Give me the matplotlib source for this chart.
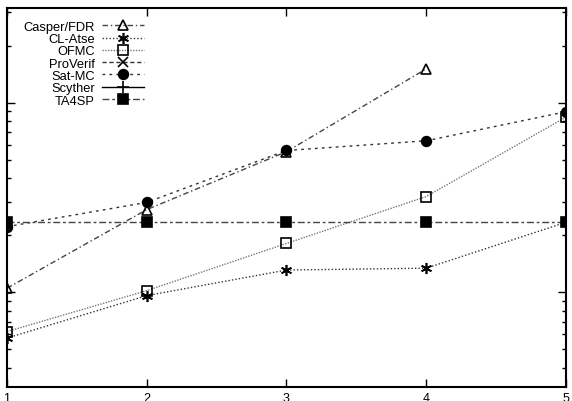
import numpy as np
import matplotlib.pyplot as plt

plt.rcParams['font.family'] = ['Liberation Sans', 'DejaVu Sans']

# number of sessions
sessions = [1, 2, 3, 4, 5]

# times (ProVerif / Scyther stay below the plotted range)
casper = [1.05, 2.73, 5.52, 15.1, np.nan]
clatse = [0.573, 0.96, 1.31, 1.34, 2.34]
ofmc = [0.62, 1.02, 1.81, 3.2, 8.4]
proverif = []
satmc = [2.22, 2.98, 5.6, 6.3, 8.97]
scyther = []
ta4sp = [2.36, 2.36, 2.36, 2.36, 2.36]


def main():
    fig = plt.figure(figsize=(5.72, 4.02), dpi=100)
    ax = fig.add_axes([0.0122, 0.0348, 0.9773, 0.9428])

    series = [
        ("Casper/FDR", casper, "^", "none", (0, (4, 2, 1, 2)), "#444444", 7),
        ("CL-Atse", clatse, (6, 2, 0), "black", (0, (1, 1.5)), "#333333", 8),
        ("OFMC", ofmc, "s", "none", (0, (1, 1)), "#777777", 7),
        ("ProVerif", proverif, "x", "black", (0, (3, 2)), "#333333", 7),
        ("Sat-MC", satmc, "o", "black", (0, (2, 3)), "#333333", 7),
        ("Scyther", scyther, "+", "black", "-", "#000000", 8),
        ("TA4SP", ta4sp, "s", "black", (0, (5, 2, 2, 2)), "#444444", 7),
    ]
    for name, vals, mk, fc, ls, col, ms in series:
        xs = sessions[:len(vals)]
        ax.plot(xs, vals, linestyle=ls, color=col, lw=1.0,
                marker=mk, markersize=ms, markerfacecolor=fc,
                markeredgecolor="black", markeredgewidth=1.2, label=name)

    ax.set_yscale("log")
    ax.set_xlim(1, 5)
    ax.set_ylim(10 ** -0.5, 10 ** 1.5)
    ax.set_xticks(sessions)

    ax.tick_params(which="both", direction="in", top=True, right=True,
                   labelleft=False, labelsize=9, width=1)
    ax.tick_params(which="major", length=6)
    ax.tick_params(which="minor", length=3)
    for sp in ax.spines.values():
        sp.set_linewidth(1.5)

    ax.legend(loc="upper left", bbox_to_anchor=(0.02, 0.98), markerfirst=False,
              frameon=False, fontsize=9.3, handlelength=3.2, labelspacing=0.02,
              borderaxespad=0, handletextpad=0.6)

    fig.savefig("out.png", dpi=100)


if __name__ == "__main__":
    main()
